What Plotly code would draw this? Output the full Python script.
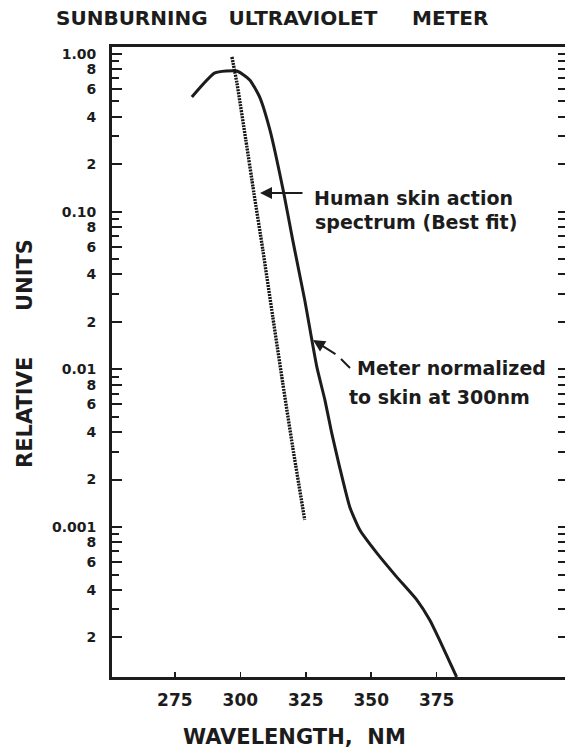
import plotly.graph_objects as go

# Meter response (solid line), normalized to skin at 300 nm
meter_wl = [281.5, 290.3, 298.7, 303.6, 307.4, 311.3, 316.6, 320.0, 324.6, 329.2,
            332.3, 334.9, 337.9, 341.8, 345.6, 352.1, 359.7, 367.4, 372.3, 377.3, 382.6]
meter_val = [0.533, 0.758, 0.780, 0.684, 0.533, 0.330, 0.131, 0.0662, 0.0275, 0.0104,
             0.0064, 0.00395, 0.00241, 0.00134, 0.00096, 0.000685, 0.000483, 0.000345,
             0.000258, 0.000174, 0.000112]

# Human skin action spectrum (dotted line, best fit)
skin_wl = [296.8, 298.7, 302.1, 305.2, 308.6, 312.4, 316.2, 320.0, 324.6]
skin_val = [0.957, 0.655, 0.285, 0.131, 0.0572, 0.0215, 0.0082, 0.00322, 0.00111]

x_ticks = [275, 300, 325, 350, 375]
y_label_vals = [1.0, 0.8, 0.6, 0.4, 0.2,
                0.1, 0.08, 0.06, 0.04, 0.02,
                0.01, 0.008, 0.006, 0.004, 0.002,
                0.001, 0.0008, 0.0006, 0.0004, 0.0002]
y_label_text = ["1.00", "8", "6", "4", "2",
                "0.10", "8", "6", "4", "2",
                "0.01", "8", "6", "4", "2",
                "0.001", "8", "6", "4", "2"]
y_minor_vals = [0.9, 0.7, 0.5, 0.3, 0.09, 0.07, 0.05, 0.03,
                0.009, 0.007, 0.005, 0.003, 0.0009, 0.0007, 0.0005, 0.0003]

INK = "#1c1c1c"
FONT = "DejaVu Sans"
WEIGHT = "bold"

W, H = 565, 749
L, R, T, B = 112, 0, 47, 72
PW, PH = W - L - R, H - T - B
Y_RANGE = [-3.951, 0.044]


def px(x):
    return (x - L) / PW


def py(y):
    return (H - B - y) / PH


fig = go.Figure()
fig.add_trace(go.Scatter(x=skin_wl, y=skin_val, mode="lines", yaxis="y2",
                         line=dict(color="#151515", width=3.4, dash="2px,1px", shape="spline", smoothing=0.6),
                         hoverinfo="skip"))
fig.add_trace(go.Scatter(x=meter_wl, y=meter_val, mode="lines",
                         line=dict(color=INK, width=3, shape="spline", smoothing=0.5),
                         hoverinfo="skip"))

all_y = sorted(y_label_vals + y_minor_vals)

fig.update_layout(
    width=W, height=H,
    margin=dict(l=L, r=R, t=T, b=B),
    paper_bgcolor="white", plot_bgcolor="white",
    showlegend=False,
    font=dict(family=FONT, color=INK),
    xaxis=dict(range=[251, 424], showgrid=False, zeroline=False,
               showline=True, linewidth=3, linecolor=INK, mirror=True,
               ticks="inside", ticklen=5, tickwidth=1.5, tickcolor=INK,
               tickvals=x_ticks, ticktext=[str(v) for v in x_ticks],
               ticklabelstandoff=6,
               tickfont=dict(size=17, family=FONT, color=INK, weight=WEIGHT)),
    yaxis=dict(type="log", range=Y_RANGE, showgrid=False, zeroline=False,
               showline=True, linewidth=3, linecolor=INK,
               ticks="inside", ticklen=10, tickwidth=2, tickcolor=INK,
               tickvals=y_label_vals, ticktext=y_label_text,
               tickfont=dict(size=14, family=FONT, color=INK, weight=WEIGHT),
               ticklabelstandoff=10,
               minor=dict(tickvals=y_minor_vals, ticks="inside", ticklen=7,
                          tickwidth=2, tickcolor=INK, showgrid=False)),
    yaxis2=dict(type="log", range=Y_RANGE, overlaying="y", side="right",
                showgrid=False, zeroline=False, showline=False,
                ticks="inside", ticklen=7, tickwidth=2, tickcolor=INK,
                tickvals=all_y, showticklabels=False),
)

annotations = [
    dict(text="SUNBURNING\u00a0\u00a0\u00a0ULTRAVIOLET\u00a0\u00a0\u00a0\u00a0\u00a0METER",
         x=px(272), y=py(18), font=dict(size=20)),
    dict(text="UNITS", x=px(25), y=py(275), textangle=-90, font=dict(size=21)),
    dict(text="RELATIVE", x=px(25), y=py(413), textangle=-90, font=dict(size=21)),
    dict(text="WAVELENGTH,\u00a0\u00a0NM", x=px(294), y=py(737), font=dict(size=21)),
    dict(text="Human skin action", x=px(312), y=py(198), xanchor="left", font=dict(size=19)),
    dict(text="spectrum (Best fit)", x=px(313), y=py(222), xanchor="left", font=dict(size=19)),
    dict(text="Meter normalized", x=px(355), y=py(368), xanchor="left", font=dict(size=19)),
    dict(text="to skin at 300nm", x=px(347), y=py(397), xanchor="left", font=dict(size=19)),
]
for a in annotations:
    a.setdefault("xanchor", "center")
    a.update(xref="paper", yref="paper", yanchor="middle", showarrow=False)
    a["font"].update(family=FONT, color=INK, weight=WEIGHT)
    fig.add_annotation(**a)

# arrows
fig.add_annotation(x=px(260), y=py(193), xref="paper", yref="paper", text="",
                   showarrow=True, ax=44, ay=0, arrowhead=2, arrowsize=1.2,
                   arrowwidth=2, arrowcolor=INK)
fig.add_annotation(x=px(313), y=py(340), xref="paper", yref="paper", text="",
                   showarrow=True, ax=24, ay=15, arrowhead=2, arrowsize=1.2,
                   arrowwidth=2, arrowcolor=INK)
fig.add_shape(type="line", xref="paper", yref="paper",
              x0=px(350), y0=py(368), x1=px(341), y1=py(359),
              line=dict(color=INK, width=2))

fig.write_html("out.html",
               config={"displayModeBar": False, "staticPlot": True},
               post_script="document.body.style.margin='0px';document.body.style.overflow='hidden';")
